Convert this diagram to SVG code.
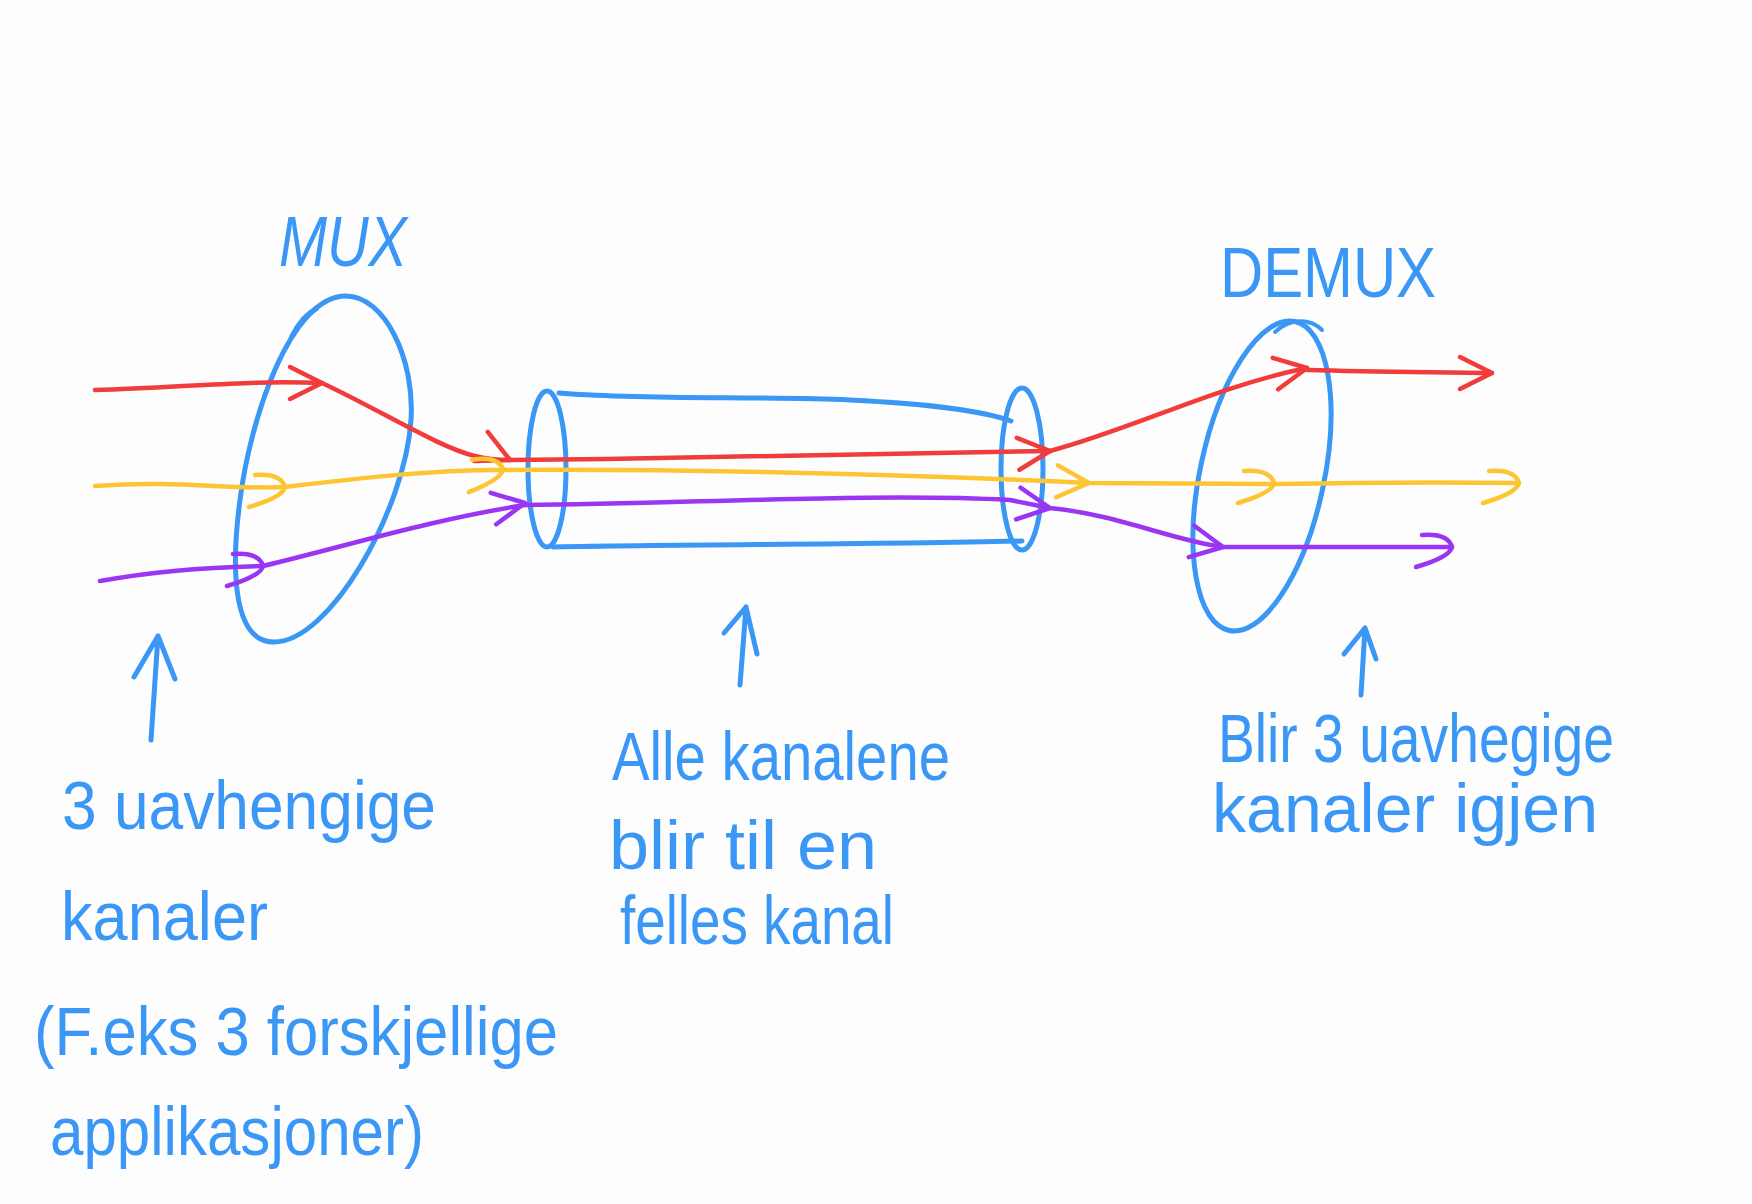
<svg xmlns="http://www.w3.org/2000/svg" xmlns:xlink="http://www.w3.org/1999/xlink" width="1752" height="1204" viewBox="0 0 1752 1204">
<style>
.bg{fill:#FDFDFE}
.blue{fill:none;stroke:#3A97F5;stroke-width:5;stroke-linecap:round;stroke-linejoin:round}
.thin{stroke-width:4}
.ln{fill:none;stroke-width:4.5;stroke-linecap:round;stroke-linejoin:round}
.r{stroke:#F23B3B}
.y{stroke:#FDC532}
.p{stroke:#9A36F2}
.t{font-family:"Liberation Sans","DejaVu Sans",sans-serif;fill:#3A97F5;font-size:68px}
.cap{font-size:70px}
</style>
<defs>
<path id="chev" d="M-32,-16 L0,0 L-32,16"/>
<path id="chevR" d="M-30,-12 Q-4,-14 0,0 Q-2,10 -36,20"/>
</defs>
<rect class="bg" x="0" y="0" width="1752" height="1204"/>

<g id="mux">
<path class="blue" d="M346,296 C385,296 415,360 411,420 C405,510 330,642 274,642 C230,642 232,560 240,500 C250,420 290,296 346,296 Z"/>
<path class="blue" d="M292,336 C298,324 306,314 316,309" stroke-width="8"/>
<text class="t cap" x="279" y="266" textLength="128" lengthAdjust="spacingAndGlyphs" font-style="italic">MUX</text>
</g>

<g id="channel">
<path class="blue" d="M559,393 C640,400 760,396 850,400 C930,404 980,410 1011,421"/>
<path class="blue" d="M553,547 C700,544 860,545 1022,541"/>
<ellipse class="blue" cx="547" cy="469" rx="19" ry="78"/>
<ellipse class="blue" cx="1022" cy="469" rx="21" ry="81"/>
</g>

<g id="demux">
<ellipse class="blue" cx="1262" cy="476" rx="62" ry="158" transform="rotate(12 1262 476)"/>
<path class="blue thin" d="M1275,332 C1290,318 1310,318 1322,330"/>
<text class="t cap" x="1220" y="297" textLength="216" lengthAdjust="spacingAndGlyphs" font-size="84">DEMUX</text>
</g>

<g id="connectors">
<path class="ln r" d="M95,390 C180,388 240,380 322,383"/>
<path class="ln r" d="M322,383 C380,410 440,448 475,456 C490,460 500,460 510,460"/>
<path class="ln r" d="M510,460 C700,458 900,455 1050,451"/>
<path class="ln r" d="M1050,451 C1130,430 1220,385 1307,368"/>
<path class="ln r" d="M1307,370 C1380,372 1440,372 1492,373"/>
<use href="#chev" class="ln r" transform="translate(322,383) rotate(0)"/>
<use href="#chev" class="ln r" transform="translate(510,460) rotate(25)"/>
<use href="#chev" class="ln r" transform="translate(1050,451) rotate(-5)"/>
<use href="#chev" class="ln r" transform="translate(1307,368) rotate(-10)"/>
<use href="#chev" class="ln r" transform="translate(1492,373) rotate(0)"/>

<path class="ln y" d="M95,486 C180,480 230,490 285,487 C360,478 430,470 500,470 C700,469 900,474 1089,483 L1274,484 C1380,482 1450,482 1519,483"/>
<use href="#chevR" class="ln y" transform="translate(285,487) rotate(0)"/>
<use href="#chevR" class="ln y" transform="translate(503,469) rotate(-5)"/>
<use href="#chev" class="ln y" transform="translate(1089,483) rotate(3)"/>
<use href="#chevR" class="ln y" transform="translate(1274,483) rotate(0)"/>
<use href="#chevR" class="ln y" transform="translate(1519,483) rotate(0)"/>

<path class="ln p" d="M100,581 C160,570 210,567 263,566 C350,545 430,520 525,505 C700,503 880,493 1010,500 L1050,508 C1120,515 1170,540 1223,547 L1452,547"/>
<use href="#chevR" class="ln p" transform="translate(263,566) rotate(0)"/>
<use href="#chev" class="ln p" transform="translate(525,503) rotate(-10)"/>
<use href="#chev" class="ln p" transform="translate(1050,508) rotate(8)"/>
<use href="#chev" class="ln p" transform="translate(1223,547) rotate(10)"/>
<use href="#chevR" class="ln p" transform="translate(1452,547) rotate(0)"/>
</g>

<g id="label-left">
<path class="blue" d="M151,740 L158,636 M134,677 L158,636 L175,679"/>
<text class="t" x="62" y="829" textLength="374" lengthAdjust="spacingAndGlyphs">3 uavhengige</text>
<text class="t" x="61" y="940" textLength="207" lengthAdjust="spacingAndGlyphs">kanaler</text>
<text class="t" x="34" y="1055" textLength="524" lengthAdjust="spacingAndGlyphs">(F.eks 3 forskjellige</text>
<text class="t" x="50" y="1155" textLength="374" lengthAdjust="spacingAndGlyphs">applikasjoner)</text>
</g>

<g id="label-middle">
<path class="blue" d="M740,685 L746,607 M724,633 L746,607 L757,654"/>
<text class="t" x="612" y="780" textLength="338" lengthAdjust="spacingAndGlyphs">Alle kanalene</text>
<text class="t" x="609" y="869" textLength="268" lengthAdjust="spacingAndGlyphs">blir til en</text>
<text class="t" x="620" y="944" textLength="274" lengthAdjust="spacingAndGlyphs">felles kanal</text>
</g>

<g id="label-right">
<path class="blue" d="M1361,695 L1365,628 M1344,654 L1365,628 L1376,659"/>
<text class="t" x="1218" y="762" textLength="396" lengthAdjust="spacingAndGlyphs">Blir 3 uavhegige</text>
<text class="t" x="1212" y="832" textLength="386" lengthAdjust="spacingAndGlyphs">kanaler igjen</text>
</g>
</svg>
